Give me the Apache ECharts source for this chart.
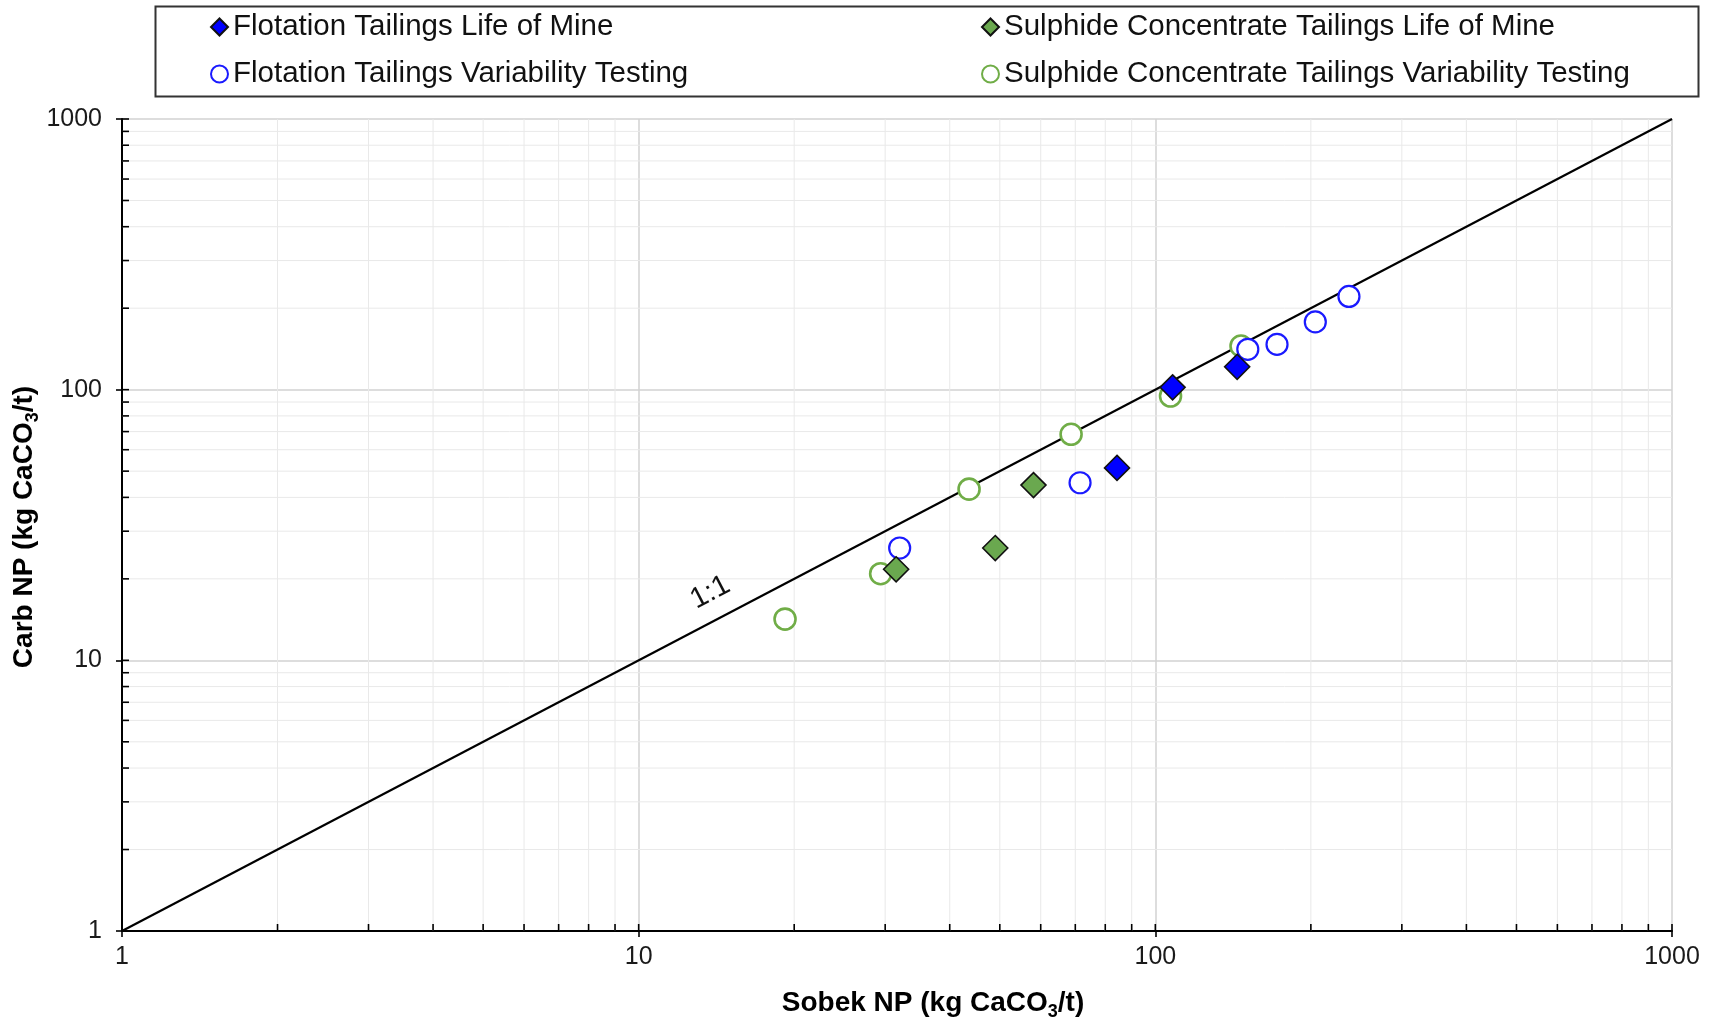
<!DOCTYPE html>
<html><head><meta charset="utf-8">
<script src="https://cdn.jsdelivr.net/npm/echarts@6/dist/echarts.min.js"></script>
<style>html,body{margin:0;padding:0;background:#fff}#c{width:1711px;height:1021px}</style>
</head><body><div id="c"></div>
<script>
// ---- data ----
const seriesNames = [
  'Flotation Tailings Life of Mine',
  'Sulphide Concentrate Tailings Life of Mine',
  'Flotation Tailings Variability Testing',
  'Sulphide Concentrate Tailings Variability Testing'
];
const ftLomX = [84.3, 108, 144];
const ftLomY = [51.4, 102, 121.5];
const scLomX = [31.5, 49.0, 58.1];
const scLomY = [21.7, 26.0, 44.4];
const ftVtX = [32.0, 71.5, 151, 172, 204, 237];
const ftVtY = [26.0, 45.3, 141, 147, 178, 221];
const scVtX = [19.2, 29.4, 43.6, 68.7, 107, 146.5];
const scVtY = [14.2, 20.9, 42.9, 68.4, 94.7, 145];
const oneToOneX = [1, 1000];
const oneToOneY = [1, 1000];
const oneToOneLabel = '1:1';
const oneToOneLabelAt = [13.76, 17.8];
const majorTicks = [1, 10, 100, 1000];
const minorTicks = [2, 3, 4, 5, 6, 7, 8, 9, 20, 30, 40, 50, 60, 70, 80, 90, 200, 300, 400, 500, 600, 700, 800, 900];
const xTitle = ['Sobek NP (kg CaCO', '3', '/t)'];
const yTitle = ['Carb NP (kg CaCO', '3', '/t)'];
const axisMin = 1, axisMax = 1000;

const FONT = '"Liberation Sans", Arial, sans-serif';
const zip = (a, b) => a.map((v, i) => [v, b[i]]);

const chart = echarts.init(document.getElementById('c'), null, {renderer: 'canvas'});

// [value, isMinor]
const tickData = minorTicks.map(v => [v, 1]).concat(majorTicks.map(v => [v, 0]));

function xMinor(params, api) {
  const v = api.value(0), isMinor = api.value(1) === 1;
  const p0 = api.coord([v, axisMin]), p1 = api.coord([v, axisMax]);
  const ch = [];
  if (isMinor) ch.push({type: 'line', shape: {x1: p0[0], y1: p0[1], x2: p1[0], y2: p1[1]}, style: {stroke: '#e9e9e9', lineWidth: 1}, z2: 0});
  ch.push({type: 'line', shape: {x1: p0[0], y1: p0[1], x2: p0[0], y2: p0[1] - 7}, style: {stroke: '#000', lineWidth: 1.6}, z2: 5});
  return {type: 'group', children: ch};
}
function yMinor(params, api) {
  const v = api.value(0), isMinor = api.value(1) === 1;
  const p0 = api.coord([axisMin, v]), p1 = api.coord([axisMax, v]);
  const ch = [];
  if (isMinor) ch.push({type: 'line', shape: {x1: p0[0], y1: p0[1], x2: p1[0], y2: p1[1]}, style: {stroke: '#e9e9e9', lineWidth: 1}, z2: 0});
  ch.push({type: 'line', shape: {x1: p0[0], y1: p0[1], x2: p0[0] + 7, y2: p0[1]}, style: {stroke: '#000', lineWidth: 1.6}, z2: 5});
  return {type: 'group', children: ch};
}

const axisCommon = {
  type: 'log', logBase: 10, min: axisMin, max: axisMax, splitNumber: 3,
  axisLine: {show: true, lineStyle: {color: '#000', width: 2}},
  axisTick: {show: true, inside: false, length: 6, lineStyle: {color: '#000', width: 1.6}},
  minorTick: {show: false},
  splitLine: {show: true, lineStyle: {color: '#d2d2d2', width: 1.5}},
  axisLabel: {fontFamily: FONT, fontSize: 25, color: '#1a1a1a', formatter: v => String(Math.round(v))}
};

const titleRich = {
  b: {fontFamily: FONT, fontSize: 28, fontWeight: 'bold', color: '#111', lineHeight: 30, verticalAlign: 'middle'},
  s: {fontFamily: FONT, fontSize: 18, fontWeight: 'bold', color: '#111', lineHeight: 36, verticalAlign: 'bottom'}
};
const richTitle = t => '{b|' + t[0] + '}{s|' + t[1] + '}{b|' + t[2] + '}';

const option = {
  backgroundColor: '#fff',
  animation: false,
  grid: {left: 122, right: 39, top: 119, bottom: 90, containLabel: false},
  xAxis: Object.assign({}, axisCommon, {axisLabel: Object.assign({}, axisCommon.axisLabel, {margin: 14})}),
  yAxis: Object.assign({}, axisCommon, {axisLabel: Object.assign({}, axisCommon.axisLabel, {margin: 20})}),
  legend: [
    {left: 210, top: 12, orient: 'vertical', itemGap: 17, itemWidth: 17, itemHeight: 17, padding: 0,
     data: [seriesNames[0], seriesNames[2]], textStyle: {fontFamily: FONT, fontSize: 29.5, lineHeight: 29, color: '#111'}},
    {left: 981, top: 12, orient: 'vertical', itemGap: 17, itemWidth: 17, itemHeight: 17, padding: 0,
     data: [seriesNames[1], seriesNames[3]], textStyle: {fontFamily: FONT, fontSize: 29.5, lineHeight: 29, color: '#111'}}
  ],
  graphic: [
    {type: 'rect', left: 153, top: 4, shape: {width: 1543, height: 90}, style: {fill: 'none', stroke: '#333', lineWidth: 2}, z: 10},
    {type: 'text', x: 933, y: 1003, style: {text: richTitle(xTitle), rich: titleRich, align: 'center', verticalAlign: 'middle'}},
    {type: 'text', x: 24, y: 527, rotation: Math.PI / 2, style: {text: richTitle(yTitle), rich: titleRich, align: 'center', verticalAlign: 'middle'}}
  ],
  series: [
    {type: 'custom', name: 'xticks', coordinateSystem: 'cartesian2d', renderItem: xMinor, data: tickData, z: 1, silent: true, clip: false},
    {type: 'custom', name: 'yticks', coordinateSystem: 'cartesian2d', renderItem: yMinor, data: tickData, z: 1, silent: true, clip: false},
    {type: 'line', name: '1:1', data: zip(oneToOneX, oneToOneY), symbol: 'none', z: 2,
     lineStyle: {color: '#000', width: 2.2}, silent: true,
     markPoint: {symbol: 'circle', symbolSize: 1, itemStyle: {color: 'rgba(0,0,0,0)'}, silent: true,
       data: [{coord: oneToOneLabelAt}],
       label: {show: true, position: 'inside', formatter: oneToOneLabel, rotate: 27.6, fontFamily: FONT, fontSize: 29, color: '#111'}}},
    {type: 'scatter', name: seriesNames[3], data: zip(scVtX, scVtY), symbol: 'circle', symbolSize: 21, z: 3,
     itemStyle: {color: '#fff', borderColor: '#70ad47', borderWidth: 2.6, opacity: 1}},
    {type: 'scatter', name: seriesNames[2], data: zip(ftVtX, ftVtY), symbol: 'circle', symbolSize: 21, z: 4,
     itemStyle: {color: '#fff', borderColor: '#1a1aff', borderWidth: 2.2, opacity: 1}},
    {type: 'scatter', name: seriesNames[1], data: zip(scLomX, scLomY), symbol: 'diamond', symbolSize: 25, z: 5,
     itemStyle: {color: '#6aa84f', borderColor: '#111', borderWidth: 1.6, opacity: 1}},
    {type: 'scatter', name: seriesNames[0], data: zip(ftLomX, ftLomY), symbol: 'diamond', symbolSize: 25, z: 6,
     itemStyle: {color: '#0000ff', borderColor: '#111', borderWidth: 1.6, opacity: 1}}
  ]
};
chart.setOption(option);
</script>
</body></html>
